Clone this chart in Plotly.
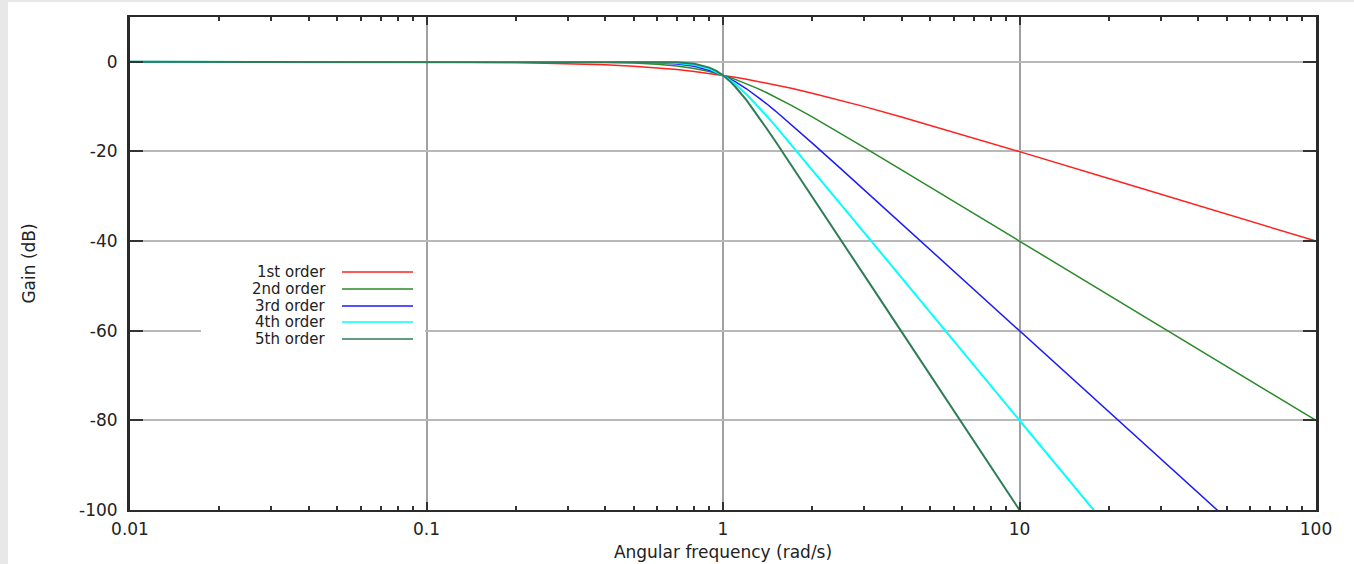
import plotly.graph_objects as go

# Angular frequency samples (rad/s)
freq = [0.01, 0.02, 0.05, 0.1, 0.2, 0.3, 0.4, 0.5, 0.6, 0.7, 0.8, 0.9, 0.95, 1.0,
        1.05, 1.1, 1.2, 1.3, 1.4, 1.5, 1.7, 2.0, 2.5, 3.0, 4.0, 5.0, 7.0, 10.0, 20.0, 50.0, 100.0]

# Gain (dB) for each filter order
gain_1st = [0.0, 0.0, -0.01, -0.04, -0.17, -0.37, -0.65, -0.97, -1.34, -1.73, -2.15, -2.58, -2.79, -3.01,
            -3.23, -3.44, -3.87, -4.30, -4.71, -5.12, -5.90, -6.99, -8.60, -10.0, -12.30, -14.15, -16.99,
            -20.04, -26.03, -33.98, -40.0]
gain_2nd = [0.0, 0.0, 0.0, 0.0, -0.01, -0.04, -0.11, -0.26, -0.53, -0.93, -1.49, -2.19, -2.59, -3.01,
            -3.46, -3.92, -4.88, -5.86, -6.85, -7.83, -9.71, -12.30, -16.03, -19.14, -24.10, -27.97, -33.81,
            -40.0, -52.04, -67.96, -80.0]
gain_3rd = [0.0, 0.0, 0.0, 0.0, 0.0, 0.0, -0.02, -0.07, -0.20, -0.48, -1.01, -1.85, -2.39, -3.01,
            -3.69, -4.43, -6.01, -7.65, -9.31, -10.93, -14.00, -18.13, -23.89, -28.63, -36.13, -41.94, -50.71,
            -60.0, -78.06, -101.94, -120.0]
gain_4th = [0.0, 0.0, 0.0, 0.0, 0.0, 0.0, 0.0, -0.02, -0.07, -0.24, -0.67, -1.55, -2.21, -3.01,
            -3.94, -4.97, -7.24, -9.62, -11.98, -14.25, -18.50, -24.10, -31.84, -38.17, -48.17, -55.92, -67.61,
            -80.0, -104.08, -135.92, -160.0]
gain_5th = [0.0, 0.0, 0.0, 0.0, 0.0, 0.0, 0.0, 0.0, -0.03, -0.12, -0.44, -1.30, -2.04, -3.01,
            -4.20, -5.56, -8.57, -11.70, -14.76, -17.68, -23.07, -30.11, -39.79, -47.71, -60.21, -69.90, -84.51,
            -100.0, -130.10, -169.90, -200.0]

series_names = ["1st order", "2nd order", "3rd order", "4th order", "5th order"]
series_values = [gain_1st, gain_2nd, gain_3rd, gain_4th, gain_5th]
series_colors = ["#ff2020", "#2a8a2a", "#1a1aff", "#00ffff", "#2e7d57"]
series_widths = [1.5, 1.5, 1.5, 2, 2]

y_ticks = [0, -20, -40, -60, -80, -100]
y_ticklabels = ["0", "-20", "-40", "-60", "-80", "-100"]
x_ticks = [0.01, 0.1, 1, 10, 100]
x_ticklabels = ["0.01", "0.1", "1", "10", "100"]

W, H = 1354, 564
L, R, T, B = 130, 38, 17, 54
PW, PH = W - L - R, H - T - B


def px(xp):
    return (xp - L) / PW


def py(yp):
    return (H - B - yp) / PH


FONT = "DejaVu Sans"
FS = 17
LFS = 15
TXT = "#222222"

fig = go.Figure()
for name, vals, col, w in zip(series_names, series_values, series_colors, series_widths):
    fig.add_trace(go.Scatter(x=freq, y=vals, mode="lines", name=name,
                             line=dict(color=col, width=w), showlegend=False))

shapes = [
    # page background (light grey strip on left/top)
    dict(type="rect", xref="paper", yref="paper", x0=px(8), x1=px(W + 5), y0=py(H + 5), y1=py(2),
         fillcolor="white", line=dict(width=0), layer="below"),
    # legend box
    dict(type="rect", xref="paper", yref="paper", x0=px(201), x1=px(425), y0=py(352), y1=py(252),
         fillcolor="white", line=dict(width=0), layer="above"),
]
annotations = []
legend_rows = [272, 289, 306, 322, 339]
for name, col, yrow in zip(series_names, series_colors, legend_rows):
    shapes.append(dict(type="line", xref="paper", yref="paper", x0=px(342), x1=px(413),
                       y0=py(yrow), y1=py(yrow), line=dict(color=col, width=1.5), layer="above"))
    annotations.append(dict(xref="paper", yref="paper", x=px(328), y=py(yrow), text=name,
                            showarrow=False, xanchor="right", yanchor="middle",
                            font=dict(family=FONT, size=LFS, color=TXT)))

fig.update_layout(
    width=W, height=H,
    margin=dict(l=L, r=R, t=T, b=B, pad=0, autoexpand=False),
    paper_bgcolor="#e8e8e8",
    plot_bgcolor="white",
    font=dict(family=FONT, size=FS, color=TXT),
    shapes=shapes,
    annotations=annotations,
    showlegend=False,
)
fig.update_xaxes(
    type="log", range=[-2, 2], automargin=False,
    tickvals=x_ticks, ticktext=x_ticklabels,
    ticks="inside", ticklen=8, tickwidth=1.5, tickcolor="#333333",
    showline=True, linecolor="#2a2a2a", linewidth=2, mirror="allticks",
    showgrid=True, gridcolor="#a0a0a0", gridwidth=2,
    zeroline=False,
    minor=dict(ticks="inside", ticklen=4, tickwidth=1.5, tickcolor="#333333", dtick="D1", showgrid=False),
    title=dict(text="Angular frequency (rad/s)", font=dict(family=FONT, size=FS, color=TXT), standoff=8),
    tickfont=dict(family=FONT, size=FS, color=TXT),
    ticklabelstandoff=3,
)
fig.update_yaxes(
    range=[-100, 10], automargin=False,
    tickvals=y_ticks, ticktext=y_ticklabels,
    ticks="inside", ticklen=13, tickwidth=1.5, tickcolor="#333333",
    showline=True, linecolor="#2a2a2a", linewidth=3, mirror="allticks",
    showgrid=True, gridcolor="#b8b8b8", gridwidth=1.5,
    zeroline=False,
    title=dict(text="Gain (dB)", font=dict(family=FONT, size=FS, color=TXT), standoff=40),
    tickfont=dict(family=FONT, size=FS, color=TXT),
    ticklabelstandoff=6,
)

fig.write_html("out.html")
